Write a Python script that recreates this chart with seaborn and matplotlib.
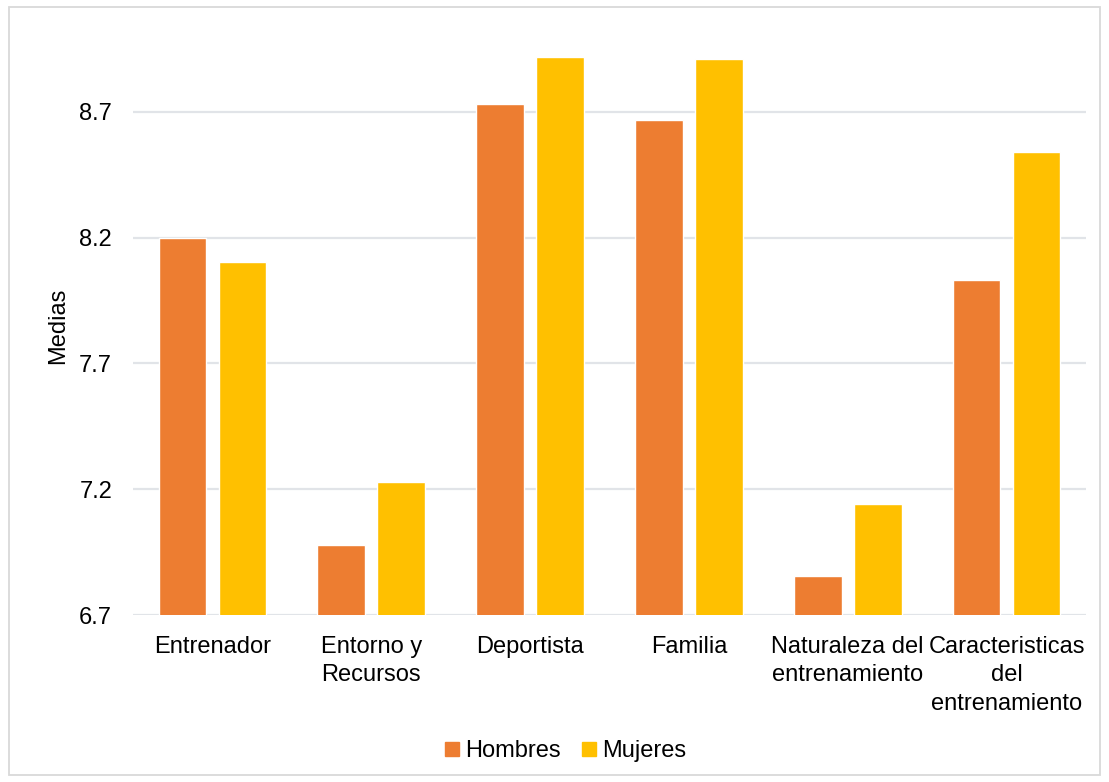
import matplotlib
matplotlib.use("Agg")
import matplotlib.pyplot as plt
from matplotlib.patches import Rectangle
from matplotlib.lines import Line2D
import seaborn as sns
import pandas as pd

# Mean scores by dimension and sex
categories = [
    "Entrenador",
    "Entorno y\nRecursos",
    "Deportista",
    "Familia",
    "Naturaleza del\nentrenamiento",
    "Caracteristicas\ndel\nentrenamiento",
]
hombres = [8.20, 6.98, 8.73, 8.67, 6.855, 8.03]
mujeres = [8.105, 7.23, 8.92, 8.91, 7.14, 8.54]
series_names = ["Hombres", "Mujeres"]
y_ticks = [6.7, 7.2, 7.7, 8.2, 8.7]

colors = {"Hombres": "#ED7D31", "Mujeres": "#FFC000"}
grid_color = "#E1E4E8"

df = pd.DataFrame({
    "categoria": categories * 2,
    "media": hombres + mujeres,
    "sexo": [series_names[0]] * len(categories) + [series_names[1]] * len(categories),
})

sns.set_theme(style="white")
plt.rcParams["font.family"] = ["Liberation Sans", "DejaVu Sans"]
plt.rcParams["font.size"] = 17
plt.rcParams["text.color"] = "black"
plt.rcParams["axes.labelcolor"] = "black"

W, H = 1109, 782
fig = plt.figure(figsize=(W / 100, H / 100), dpi=100)
ax = fig.add_axes([133 / W, 167 / H, (1086 - 133) / W, (615 - 36.5) / H])

sns.barplot(
    data=df, x="categoria", y="media", hue="sexo", order=categories,
    hue_order=series_names, palette=colors, width=0.756, gap=0.206,
    saturation=1, errorbar=None, legend=False, ax=ax,
)

ax.set_ylim(6.7, 9.0)
ax.set_xlim(-0.5, len(categories) - 0.5)
ax.set_yticks(y_ticks)
ax.set_yticklabels([f"{v:.1f}" for v in y_ticks])
for v in y_ticks:
    ax.axhline(v, color=grid_color, lw=1.6, zorder=0)
ax.set_axisbelow(True)

for s in ax.spines.values():
    s.set_visible(False)

ax.tick_params(axis="both", length=0, labelsize=17, colors="#000000")
ax.tick_params(axis="x", pad=15)
ax.tick_params(axis="y", pad=15)
for lbl in ax.get_xticklabels():
    lbl.set_linespacing(1.38)
    lbl.set_horizontalalignment("center")

ax.set_xlabel("")
ax.set_ylabel("Medias", fontsize=17, labelpad=7, color="black")

handles = [
    Line2D([], [], marker="s", linestyle="none", markersize=10,
           markerfacecolor=colors[n], markeredgecolor=colors[n])
    for n in series_names
]
fig.legend(handles, series_names, loc="center", bbox_to_anchor=(564 / W, 1 - 751 / H),
           ncol=2, frameon=False, fontsize=17, handletextpad=0.1,
           columnspacing=0.75, handlelength=0.9)

# Chart frame
fig.patches.append(Rectangle((9 / W, 7 / H), (1100 - 9) / W, (775 - 7) / H,
                             transform=fig.transFigure, fill=False,
                             edgecolor="#D9D9D9", lw=1.3))

fig.savefig("out.png", dpi=100, facecolor="white")
